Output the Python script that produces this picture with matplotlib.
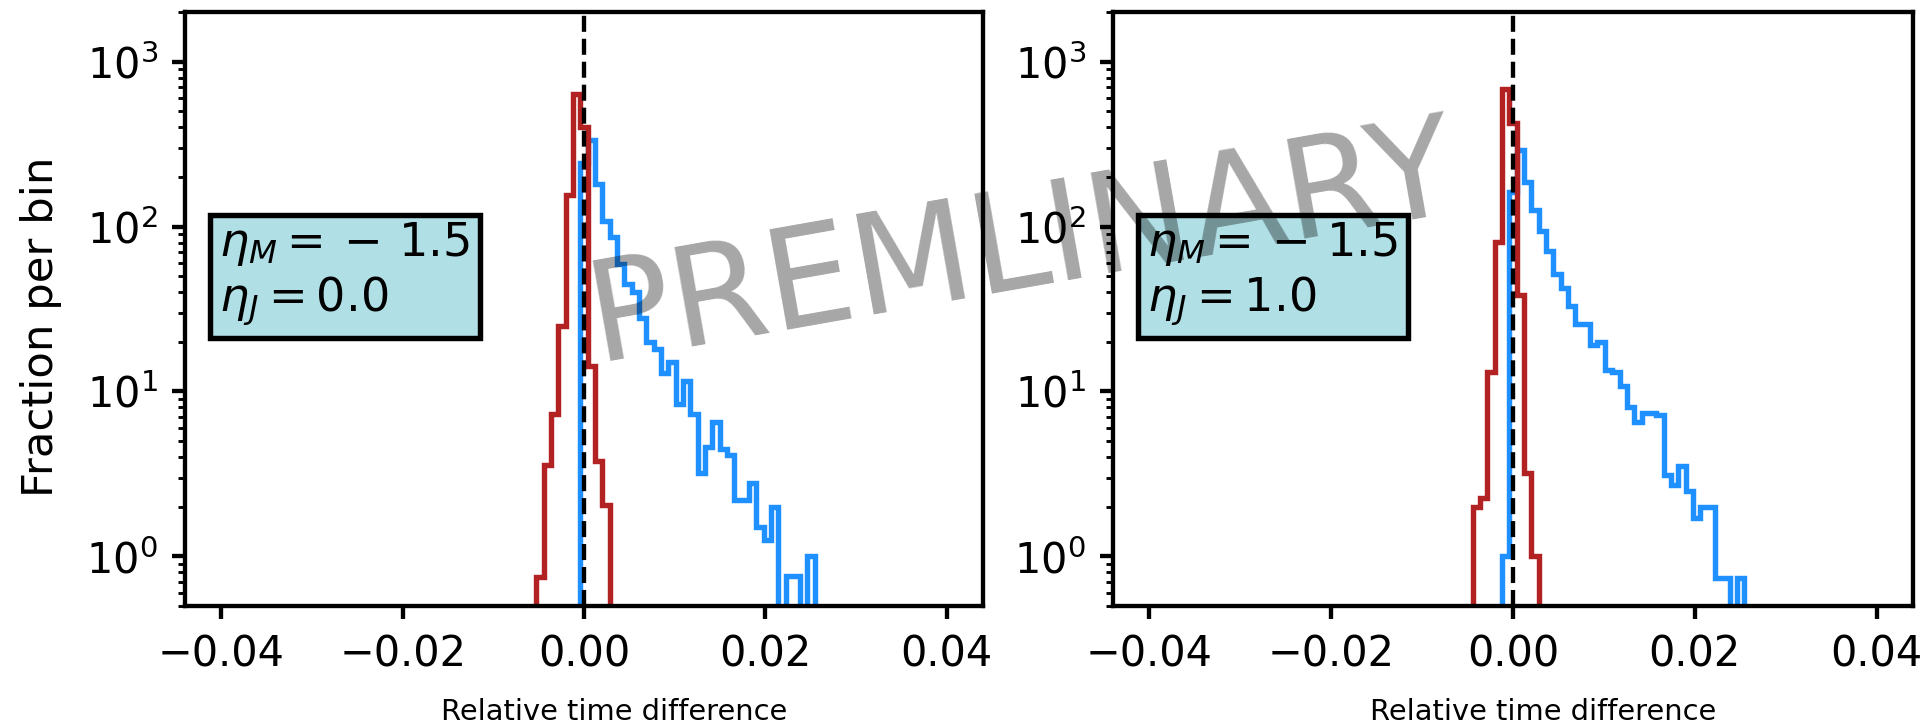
import numpy as np
import matplotlib
matplotlib.use("Agg")
import matplotlib.pyplot as plt

#
# Bins du histogramme : 99 bins identiques entre -0.04 et 0.04.
#
bin_edges = np.linspace(-0.04, 0.04, 100)

#
# Hauteurs (fraction par bin), a partir du premier bin non vide.
#
left_blue_start = 49
left_blue = [244, 336, 180, 108, 86, 59, 45, 40, 28, 20, 18, 13, 15, 8.4, 11.5, 7.3,
             3.2, 4.6, 6.5, 4.5, 4.1, 2.2, 2.2, 2.8, 1.5, 1.25, 2.0, 0, 0.76, 0.76, 0, 1.0]
left_red_start = 43
left_red = [0.754, 3.56, 7.3, 24.9, 155, 637, 401, 14.3, 3.8, 2.04]

right_blue_start = 48
right_blue = [1.0, 162, 293, 187, 126, 93.5, 71, 51.5, 42.3, 33, 25.7, 25.7, 19.1, 20,
              13.5, 13.2, 10.8, 8.0, 6.5, 7.4, 7.4, 7.2, 3.1, 2.69, 3.54, 2.5, 1.72,
              2.0, 2.0, 0.74, 0.74, 0, 0.74]
right_red_start = 44
right_red = [2.0, 2.26, 13.2, 80.6, 681, 425, 38.3, 3.2, 1.0]

panel_labels = ["$\\eta_M = {} -\\, 1.5$\n$\\eta_J = 0.0$",
                "$\\eta_M = {} -\\, 1.5$\n$\\eta_J = 1.0$"]
x_ticks = [-0.04, -0.02, 0.0, 0.02, 0.04]


def poids(valeurs, debut):
    """Place les hauteurs lues dans un tableau couvrant tous les bins."""
    w = np.zeros(len(bin_edges) - 1)
    w[debut:debut + len(valeurs)] = valeurs
    return w


DPI = 260
fig = plt.figure(figsize=(1929 / DPI, 725 / DPI), dpi=DPI)
ax_left = fig.add_axes([185 / 1929, 1 - 606 / 725, 798 / 1929, 594 / 725])
ax_right = fig.add_axes([1113 / 1929, 1 - 606 / 725, 800 / 1929, 594 / 725])

panels = [
    (ax_left, left_blue, left_blue_start, left_red, left_red_start, panel_labels[0]),
    (ax_right, right_blue, right_blue_start, right_red, right_red_start, panel_labels[1]),
]

centres = bin_edges[:-1] + np.diff(bin_edges) / 2

for ax, blue, b0, red, r0, label in panels:
    ax.hist(centres, bins=bin_edges, weights=poids(blue, b0), histtype="step",
            color="dodgerblue", lw=1.5)
    ax.hist(centres, bins=bin_edges, weights=poids(red, r0), histtype="step",
            color="firebrick", lw=1.5)
    ax.axvline(0, color="k", ls="--", lw=1.2, zorder=5)

    ax.set_yscale("log")
    ax.set_ylim(0.5, 2000)
    ax.set_xlim(-0.044, 0.044)
    ax.set_xticks(x_ticks)

    for s in ax.spines.values():
        s.set_linewidth(1.2)
    ax.tick_params(which="major", width=1.2, length=3.5, labelsize=11.5, pad=4)
    ax.tick_params(which="minor", width=0.8, length=2)

    ax.set_xlabel("Relative time difference", fontsize=8)
    ax.xaxis.set_label_coords(0.538, -0.155)

    ax.text(0.043, 0.559, label, transform=ax.transAxes, fontsize=12.8,
            ha="left", va="center",
            bbox=dict(boxstyle="square,pad=0.2", facecolor="powderblue",
                      edgecolor="k", lw=1.5))

ax_left.set_ylabel("Fraction per bin", fontsize=12)
ax_left.yaxis.set_label_coords(-0.154, 0.47)

# Filigrane
fig.text(0.530, 0.660, "PREMLINARY", rotation=10, fontsize=38.5, color="k",
         alpha=0.35, ha="center", va="center", zorder=10)

fig.savefig("out.png", dpi=DPI)
